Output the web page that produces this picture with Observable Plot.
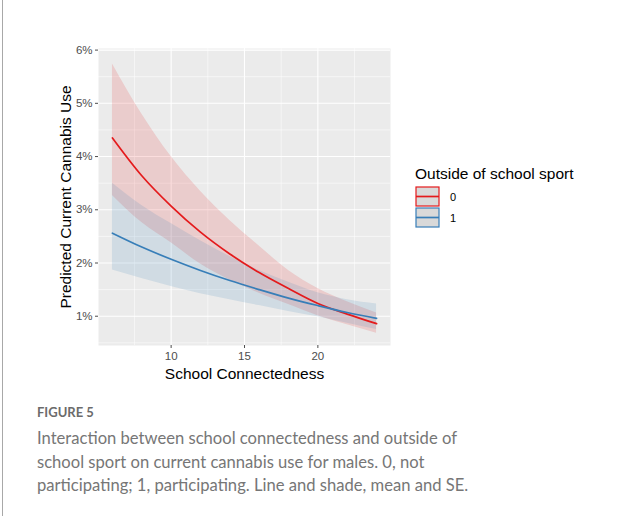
<!DOCTYPE html>
<html>
<head>
<meta charset="utf-8">
<script src="https://cdn.jsdelivr.net/npm/d3@7"></script>
<script src="https://cdn.jsdelivr.net/npm/@observablehq/plot@0.6"></script>
<style>
  html, body { margin: 0; padding: 0; background: #fff; }
  body { width: 617px; height: 516px; position: relative; overflow: hidden; font-family: "Liberation Sans", Arial, sans-serif; }
  #frame { position: absolute; left: 2px; top: 0; width: 1px; height: 516px; background: #a8a8a8; }
  #chart { position: absolute; left: 0; top: 0; }
  #chart svg { overflow: visible; }
  g[aria-label="y-axis label"] text, g[aria-label="x-axis label"] text { font-size: 15.5px; fill: #000; }
  #legend { position: absolute; left: 415px; top: 165px; font-family: "Liberation Sans", Arial, sans-serif; }
  #legend .title { font-size: 15.5px; color: #000; margin-bottom: 3px; white-space: nowrap; }
  #legend .row { display: flex; align-items: center; height: 21px; }
  #legend .lab { font-size: 11px; color: #000; margin-left: 10px; }
  #figlabel { position: absolute; left: 37px; top: 404px; font-family: Lato, "Open Sans", sans-serif; font-size: 13px; font-weight: 700; color: #6b6b6b; }
  #caption { position: absolute; left: 37px; top: 427px; font-family: Lato, "Open Sans", sans-serif; font-size: 16.6px; line-height: 23.5px; color: #767676; white-space: nowrap; }
</style>
</head>
<body>
<div id="frame"></div>
<div id="chart"></div>
<div id="legend"></div>
<div id="figlabel">FIGURE 5</div>
<div id="caption">Interaction between school connectedness and outside of<br>school sport on current cannabis use for males. 0, not<br>participating; 1, participating. Line and shade, mean and SE.</div>
<script>
// ---- data (values in %) ----
const connectedness = [6, 8, 10, 12, 14, 16, 18, 20, 22, 24];
const groups = ["0", "1"];
const groupColors = ["#E41A1C", "#377EB8"];

const mean0  = [4.35, 3.64, 3.07, 2.58, 2.17, 1.82, 1.52, 1.24, 1.04, 0.86];
const upper0 = [5.74, 4.80, 4.00, 3.35, 2.80, 2.32, 1.86, 1.52, 1.27, 1.06];
const lower0 = [3.27, 2.76, 2.38, 1.98, 1.68, 1.43, 1.22, 1.01, 0.84, 0.68];

const mean1  = [2.56, 2.30, 2.07, 1.86, 1.67, 1.50, 1.34, 1.20, 1.07, 0.96];
const upper1 = [3.50, 3.08, 2.74, 2.42, 2.12, 1.86, 1.64, 1.44, 1.31, 1.23];
const lower1 = [1.87, 1.71, 1.56, 1.42, 1.31, 1.20, 1.09, 0.99, 0.87, 0.75];

const yTicks = [1, 2, 3, 4, 5, 6];
const xTicks = [10, 15, 20];
const yMinor = [0.5, 1.5, 2.5, 3.5, 4.5, 5.5];
const xMinor = [7.5, 12.5, 17.5, 22.5];

const xTitle = "School Connectedness";
const yTitle = "Predicted Current Cannabis Use";
const legendTitle = "Outside of school sport";

// ---- build table ----
const series = [
  {group: groups[0], mean: mean0, lo: lower0, hi: upper0},
  {group: groups[1], mean: mean1, lo: lower1, hi: upper1}
];
const rows = series.flatMap(s => connectedness.map((x, i) => ({
  x, group: s.group, mean: s.mean[i], lo: s.lo[i], hi: s.hi[i]
})));

const W = 617, H = 390;
const chart = Plot.plot({
  width: W,
  height: H,
  marginLeft: 98,
  marginRight: W - 390,
  marginTop: 48,
  marginBottom: H - 345,
  style: {fontFamily: "Liberation Sans, Arial, sans-serif", background: "transparent", color: "#4D4D4D"},
  x: {domain: [5.05, 24.95]},
  y: {domain: [0.45, 6.03]},
  color: {domain: groups, range: groupColors},
  marks: [
    Plot.frame({fill: "#EBEBEB", stroke: null}),
    Plot.ruleX(xMinor, {stroke: "#fff", strokeWidth: 0.55}),
    Plot.ruleY(yMinor, {stroke: "#fff", strokeWidth: 0.55}),
    Plot.ruleX(xTicks, {stroke: "#fff", strokeWidth: 1.1}),
    Plot.ruleY(yTicks, {stroke: "#fff", strokeWidth: 1.1}),
    Plot.areaY(rows, {x: "x", y1: "lo", y2: "hi", fill: "group", fillOpacity: 0.15, curve: "monotone-x"}),
    Plot.lineY(rows, {x: "x", y: "mean", stroke: "group", strokeWidth: 1.7, curve: "monotone-x"}),
    Plot.axisY({ticks: yTicks, tickFormat: d => d + "%", tickSize: 3, tickPadding: 3, fontSize: 11.5,
      label: yTitle, labelAnchor: "center", labelArrow: "none", labelOffset: 39}),
    Plot.axisX({ticks: xTicks, tickSize: 3, tickPadding: 3, fontSize: 11.5,
      label: xTitle, labelAnchor: "center", labelArrow: "none", labelOffset: 33})
  ]
});
document.getElementById("chart").appendChild(chart);

// ---- legend ----
const legend = document.getElementById("legend");
const t = document.createElement("div");
t.className = "title";
t.textContent = legendTitle;
legend.appendChild(t);
groups.forEach((g, i) => {
  const row = document.createElement("div");
  row.className = "row";
  row.innerHTML = `<svg width="25" height="21"><rect x="1" y="1" width="23" height="19" fill="#D9D9D9" stroke="${groupColors[i]}" stroke-width="1.2"/><line x1="1" x2="24" y1="10.5" y2="10.5" stroke="${groupColors[i]}" stroke-width="1.7"/></svg>`;
  const lab = document.createElement("span");
  lab.className = "lab";
  lab.textContent = g;
  row.appendChild(lab);
  legend.appendChild(row);
});
</script>
</body>
</html>
